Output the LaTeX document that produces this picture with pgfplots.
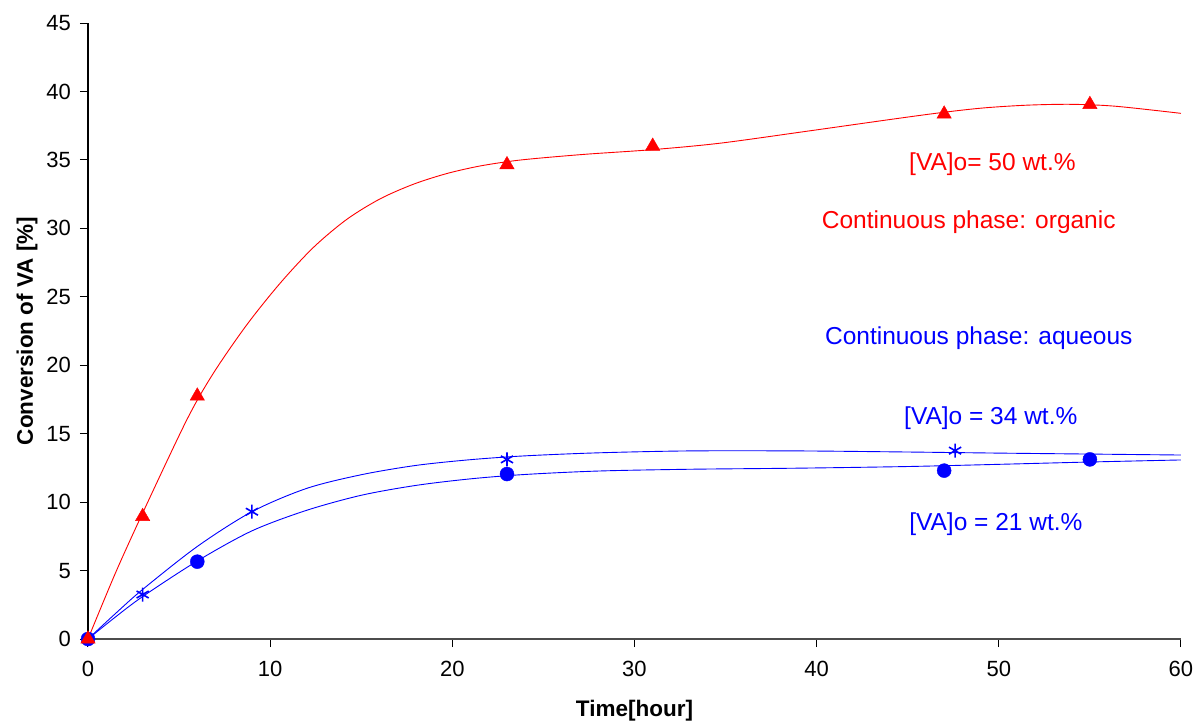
\documentclass[border=0pt]{standalone}
\usepackage{fontspec}
\setmainfont{Liberation Sans}
\usepackage{pgfplots}
\pgfplotsset{compat=1.18}
\definecolor{xlred}{RGB}{255,0,0}
\definecolor{xlblue}{RGB}{0,0,255}

\begin{document}
\begin{tikzpicture}
\begin{axis}[
    name=ax, at={(0,0)}, anchor=south west,
    scale only axis, width=1093pt, height=616pt,
    xmin=0, xmax=60, ymin=0, ymax=45,
    xtick={0,10,...,60}, ytick={0,5,...,45},
    axis x line=bottom, axis y line=left,
    axis line style={-, line width=1.2pt},
    x axis line style={draw=black!70},
    tick align=outside, major tick length=8pt,
    tick style={line width=1pt, black},
    /pgf/number format/assume math mode=true,
    ticklabel style={font=\fontsize{22}{26}\selectfont},
    xticklabel shift=10.7pt, yticklabel shift=5.5pt,
    xlabel={Time[hour]},
    ylabel={Conversion of VA [\%]},
    label style={font=\bfseries\fontsize{22.5}{27}\selectfont},
    xlabel style={at={(axis description cs:0.5,-0.1169)}, anchor=center},
    ylabel style={at={(axis description cs:-0.0558,0.5)}, anchor=center},
    clip=false,
]

% trend lines
\addplot[xlred, line width=0.9pt, smooth, tension=0.5, no marks] coordinates {
    (0,0) (1.5,4.8) (3,9.2) (5.42,16.0) (6.88,19.41) (8.71,22.94)
    (10.54,25.98) (12.37,28.6) (14.2,30.65) (16.03,32.15) (17.86,33.22)
    (19.69,34.0) (21.5,34.55) (23.3,34.92) (24.8,35.13) (27.4,35.42)
    (31,35.75) (34.7,36.22) (39.5,37.1) (44.3,38.0) (47,38.48)
    (49.2,38.8) (51.6,39.0) (54,39.06) (56.4,38.92) (60,38.4)
};
\addplot[xlblue, line width=0.9pt, smooth, tension=0.5, no marks] coordinates {
    (0,0) (1.5,1.85) (3,3.62) (6,6.76) (9,9.3) (12,11.0) (15,12.0)
    (18,12.68) (21,13.1) (24,13.38) (28,13.6) (33,13.74) (39,13.74)
    (45,13.66) (50,13.58) (55,13.51) (60,13.44)
};
\addplot[xlblue, line width=0.9pt, smooth, tension=0.5, no marks] coordinates {
    (0,0) (1.5,1.6) (3,3.1) (6,5.7) (9,7.9) (12,9.4) (15,10.5)
    (18,11.22) (21,11.7) (24,12.02) (28,12.27) (33,12.4) (39,12.48)
    (45,12.6) (50,12.76) (55,12.93) (60,13.08)
};

% measured points
\addplot[only marks, mark=*, mark size=7pt, color=xlblue] coordinates {
    (0,0) (6,5.65) (23,12.05) (47,12.3) (55,13.12)
};
\addplot[only marks, mark=asterisk, mark size=7pt, color=xlblue,
    mark options={line width=1.6pt}] coordinates {
    (0,0) (3,3.25) (9,9.3) (23,13.12) (47.6,13.76)
};
\addplot[only marks, mark=triangle*, mark size=8.3pt, color=xlred,
    mark options={fill=xlred}] coordinates {
    (0,0) (3,8.95) (6,17.75) (23,34.65) (31,36.0) (47,38.35) (55,39.05)
};

% annotations
\node[text=xlred, font=\fontsize{24.5}{29}\selectfont] at (axis cs:49.65,34.7) {[VA]o= 50 wt.\%};
\node[text=xlred, font=\fontsize{24.5}{29}\selectfont] at (axis cs:48.35,30.46) {Continuous phase: organic};
\node[text=xlblue, font=\fontsize{24.5}{29}\selectfont] at (axis cs:48.9,21.99) {Continuous phase: aqueous};
\node[text=xlblue, font=\fontsize{24.5}{29}\selectfont] at (axis cs:49.56,16.14) {[VA]o = 34 wt.\%};
\node[text=xlblue, font=\fontsize{24.5}{29}\selectfont] at (axis cs:49.84,8.4) {[VA]o = 21 wt.\%};
\end{axis}
\pgfresetboundingbox
\useasboundingbox (-88pt,-85pt) rectangle (1109pt,639pt);
\end{tikzpicture}
\end{document}
